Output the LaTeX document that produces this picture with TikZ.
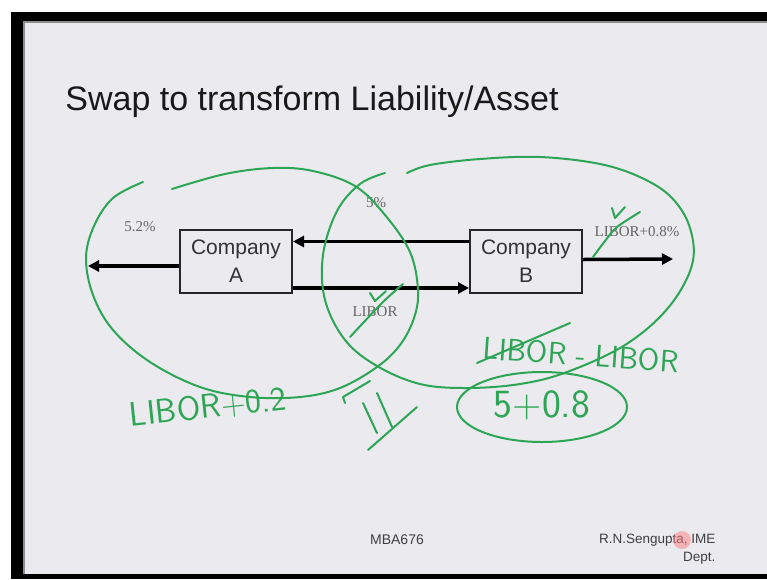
\documentclass[tikz,border=0pt]{standalone}
\usepackage{fontspec}
\setmainfont{Liberation Sans}
\newfontfamily\labelfont{Liberation Serif}
\usetikzlibrary{positioning,arrows.meta}

\definecolor{slide}{RGB}{234,234,239}
\definecolor{pen}{RGB}{44,166,84}

\begin{document}
\begin{tikzpicture}[x=1pt,y=-1pt]

  % Definitions
  \tikzstyle{Company} = [rectangle, minimum width=112pt, minimum height=63pt, align=center, draw=black!85, line width=2pt, font=\fontsize{21}{28}\selectfont, text=black!80]
  \tikzstyle{arrow} = [line width=3.5pt, -{Triangle[length=11pt,width=11pt]}]
  \tikzstyle{rate} = [font=\labelfont\fontsize{15}{15}\selectfont, text=black!60]
  \tikzstyle{hand} = [text=pen, font=\sffamily\fontsize{34}{34}\selectfont]
  \tikzstyle{ink} = [draw=pen, line width=2pt, line cap=round, line join=round]

  \useasboundingbox (0,0) rectangle (767,579);
  \fill[white] (0,0) rectangle (767,579);
  \fill[black] (11,12) rectangle (767,579);
  \fill[slide] (24,22) rectangle (767,574);
  \draw[black!45, line width=1.5pt] (24,574) -- (24,22) -- (767,22);

  \node (title) [anchor=base, font=\fontsize{34}{40}\selectfont, text=black!90] at (312,110) {Swap to transform Liability/Asset};

  \node (A) [Company] at (236,261.5) {Company\\A};
  \node (B) [Company, right=176pt of A] {Company\\B};

  \coordinate (outA) at (88,266);
  \coordinate (outB) at (673,259);

  \draw [arrow] ([yshift=-4.5pt]A.west) -- (outA);
  \draw [arrow] ([yshift=20pt]B.west) -- ([yshift=20pt]A.east);
  \draw [arrow] ([yshift=-26.5pt]A.east) -- ([yshift=-26.5pt]B.west);
  \draw [arrow] ([yshift=2pt]B.east) -- (outB);

  \node (rA) [rate] at (140,227) {5.2\%};
  \node (rFix) [rate] at (376,203) {5\%};
  \node (rFloat) [rate] at (375,312) {LIBOR};
  \node (rB) [rate] at (637,232) {LIBOR+0.8\%};

  % pen notes
  \draw [ink] plot[smooth, tension=0.6] coordinates {(143,182) (113,198) (94,226) (86,258) (93,295) (113,330) (150,362) (200,387) (250,397) (300,397) (340,388) (377,367) (400,345) (414,318) (418,290) (410,252) (385,215) (355,186) (313,171) (273,168) (225,174) (172,189)};
  \draw [ink] plot[smooth, tension=0.6] coordinates {(385,173) (360,184) (337,211) (323,255) (325,300) (345,340) (377,366) (420,384) (467,388) (520,384) (567,372) (625,345) (668,308) (692,265) (690,228) (672,198) (642,178) (600,164) (540,157) (480,159) (430,165) (407,173)};

  \draw [ink] (612,208) -- (615,218) -- (625,207);
  \draw [ink] plot[smooth] coordinates {(593,257) (605,241) (617,227) (640,212)};
  \draw [ink] (370,293) -- (375,301) -- (386,291);
  \draw [ink] plot[smooth] coordinates {(403,284) (382,303) (350,337)};

  \node (fA) [hand, rotate=6] at (208,407) {LIBOR+0.2};
  \node (fB) [hand, rotate=-4, font=\sffamily\fontsize{31}{31}\selectfont] at (581,355) {LIBOR - LIBOR};
  \draw [ink] (477,363) -- (570,323);
  \node (sum) [hand, font=\sffamily\fontsize{40}{40}\selectfont] at (542,405) {5+0.8};
  \draw [ink] (542,407) ellipse [x radius=85pt, y radius=35pt];

  \draw [ink] (345,403) -- (343,397) -- (370,381);
  \draw [ink] (363,403) -- (377,433);
  \draw [ink] (377,393) -- (392,427);
  \draw [ink] (368,450) -- (417,407);

  \node (course) [font=\fontsize{14}{14}\selectfont, text=black!75] at (397,540) {MBA676};
  \node (who) [anchor=east, font=\fontsize{13.5}{14}\selectfont, text=black!75] at (719,540) {R.N.Sengupta, IME};
  \node (dept) [anchor=east, font=\fontsize{13.5}{14}\selectfont, text=black!75] at (719,558) {Dept.};
  \fill [red!50, opacity=0.5] (682,540) circle (9pt);

\end{tikzpicture}
\end{document}
